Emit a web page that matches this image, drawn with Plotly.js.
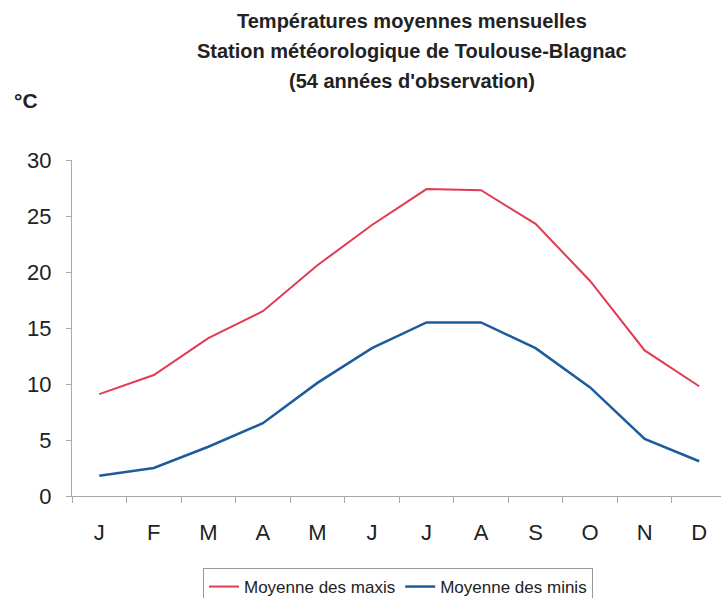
<!DOCTYPE html>
<html>
<head>
<meta charset="utf-8">
<script src="https://cdn.plot.ly/plotly-3.0.1.min.js"></script>
<style>html,body{margin:0;padding:0;background:#fff}#chart{width:721px;height:598px}</style>
</head>
<body>
<div id="chart"></div>
<script>
var months = ['J','F','M','A','M','J','J','A','S','O','N','D'];
var maxis = [9.1, 10.8, 14.1, 16.5, 20.6, 24.2, 27.4, 27.3, 24.3, 19.2, 13.0, 9.8];
var minis = [1.8, 2.5, 4.4, 6.5, 10.1, 13.2, 15.5, 15.5, 13.2, 9.7, 5.1, 3.1];
var titleLines = ['Températures moyennes mensuelles', 'Station météorologique de Toulouse-Blagnac', "(54 années d'observation)"];
var yUnit = '°C';
var seriesNames = ['Moyenne des maxis', 'Moyenne des minis'];

var idx = months.map(function(_, i){ return i; });
var FONT = '"Liberation Sans Narrow", "Arial Narrow", "Liberation Sans", Arial, sans-serif';

var traces = [
  {x: idx, y: maxis, type: 'scatter', mode: 'lines', name: seriesNames[0],
   line: {color: '#e23a52', width: 2}},
  {x: idx, y: minis, type: 'scatter', mode: 'lines', name: seriesNames[1],
   line: {color: '#1c5c9c', width: 2.5}}
];

var annotations = titleLines.map(function(t, i){
  return {text: '<b>' + t + '</b>', xref: 'paper', yref: 'paper', x: (412-72)/649, y: 1 + (160 - (21 + i*30))/336,
    xanchor: 'center', yanchor: 'middle', showarrow: false,
    font: {family: FONT, size: 20, color: '#222'}};
});
annotations.push({text: '<b>' + yUnit + '</b>', xref: 'paper', yref: 'paper', x: (12-72)/649, y: 1 + (160-101)/336,
  xanchor: 'left', yanchor: 'middle', showarrow: false, font: {family: FONT, size: 21, color: '#222'}});

var layout = {
  width: 721, height: 598,
  margin: {l: 72, r: 0, t: 160, b: 102, pad: 0},
  paper_bgcolor: '#fff', plot_bgcolor: '#fff',
  showlegend: true,
  font: {family: FONT, color: '#222'},
  xaxis: {
    range: [-0.5, 11.4], tickmode: 'array', tickvals: idx, ticktext: months,
    ticks: '', showgrid: false, zeroline: false,
    showline: true, linecolor: '#a8a8a8', linewidth: 1,
    tickfont: {family: FONT, size: 22, color: '#222'},
    ticklabelstandoff: 17,
    minor: {tick0: 0.5, dtick: 1, ticks: 'outside', ticklen: 6, tickcolor: '#a8a8a8', tickwidth: 1, showgrid: false},
    fixedrange: true
  },
  yaxis: {
    range: [0, 30], tickmode: 'array', tickvals: [0,5,10,15,20,25,30],
    ticks: 'outside', ticklen: 5, tickcolor: '#a8a8a8', showgrid: false, zeroline: false,
    showline: true, linecolor: '#a8a8a8', linewidth: 1,
    tickfont: {family: FONT, size: 22, color: '#222'},
    ticklabelstandoff: 10,
    fixedrange: true
  },
  legend: {
    orientation: 'h', xref: 'container', x: 398/721, xanchor: 'center',
    yref: 'container', y: 1 - 568/598, yanchor: 'top',
    bordercolor: '#999', borderwidth: 1, bgcolor: '#fff',
    font: {family: FONT, size: 17, color: '#222'},
    itemwidth: 30, tracegroupgap: 0
  },
  annotations: annotations
};

Plotly.newPlot('chart', traces, layout, {displayModeBar: false, staticPlot: true});
</script>
</body>
</html>
